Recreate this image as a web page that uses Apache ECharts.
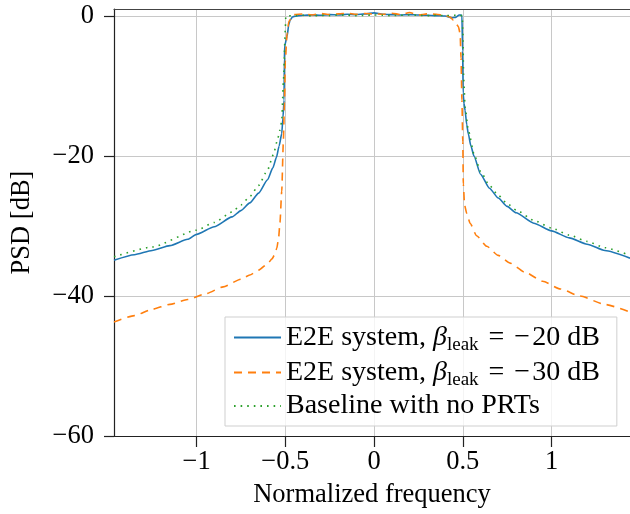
<!DOCTYPE html>
<html>
<head>
<meta charset="utf-8">
<script src="https://cdn.jsdelivr.net/npm/echarts@6/dist/echarts.min.js"></script>
<style>
html,body{margin:0;padding:0;background:#fff;}
#chart{width:630px;height:514px;}
</style>
</head>
<body>
<div id="chart"></div>
<script>
// ---- data ----
const xTicks = [-1, -0.5, 0, 0.5, 1];
const yTicks = [-60, -40, -20, 0];
const seriesNames = ['E2E system, β_leak = −20 dB', 'E2E system, β_leak = −30 dB', 'Baseline with no PRTs'];

const freqBlue = [-1.465, -1.35, -1.25, -1.15, -1.05, -1.0, -0.9, -0.8, -0.75, -0.7, -0.65, -0.6, -0.57, -0.55, -0.535, -0.52, -0.513, -0.507, -0.505, -0.503, -0.49, -0.48, -0.473, -0.46, -0.45, -0.4, -0.35, -0.3, -0.25, -0.2, -0.15, -0.1, -0.05, 0, 0.05, 0.1, 0.15, 0.2, 0.25, 0.3, 0.35, 0.4, 0.44, 0.46, 0.48, 0.495, 0.499, 0.502, 0.507, 0.513, 0.522, 0.531, 0.545, 0.563, 0.6, 0.65, 0.7, 0.75, 0.8, 0.9, 1.0, 1.1, 1.2, 1.3, 1.442];
const psdBlue = [-34.9, -34.1, -33.5, -32.8, -31.9, -31.2, -30.1, -28.7, -27.8, -26.7, -25.3, -23.4, -21.7, -20.2, -18.6, -16.8, -14.5, -12.0, -6.0, -4.2, -2.9, -1.2, -0.6, -0.15, -0.05, 0.1, 0.15, 0.1, 0.2, 0.15, 0.25, 0.2, 0.3, 0.45, 0.25, 0.2, 0.15, 0.2, 0.15, 0.1, 0.05, 0.0, -0.25, -0.2, 0.15, 0.1, -5, -11, -12.5, -13.5, -15.5, -16.8, -18.5, -20.0, -22.6, -24.6, -26.0, -27.2, -28.1, -29.6, -30.7, -31.7, -32.6, -33.5, -34.6];

const freqOrange = [-1.465, -1.35, -1.25, -1.15, -1.05, -0.95, -0.85, -0.75, -0.7, -0.65, -0.6, -0.575, -0.56, -0.548, -0.538, -0.53, -0.52, -0.511, -0.505, -0.5, -0.49, -0.48, -0.466, -0.45, -0.4, -0.35, -0.3, -0.25, -0.2, -0.15, -0.1, -0.05, 0, 0.05, 0.1, 0.15, 0.2, 0.25, 0.3, 0.35, 0.4, 0.43, 0.447, 0.465, 0.475, 0.485, 0.49, 0.495, 0.5, 0.503, 0.51, 0.522, 0.541, 0.578, 0.635, 0.7, 0.766, 0.85, 0.95, 1.05, 1.16, 1.3, 1.442];
const psdOrange = [-43.7, -42.8, -41.9, -41.2, -40.5, -39.7, -38.7, -37.6, -37.0, -36.3, -35.4, -34.7, -34.1, -33.2, -31.8, -29.5, -25.0, -18.0, -12.5, -6.5, -2.5, -0.8, -0.3, 0.2, 0.3, 0.15, 0.35, 0.2, 0.3, 0.4, 0.25, 0.35, 0.3, 0.25, 0.4, 0.2, 0.5, 0.15, 0.3, 0.25, 0.1, -0.2, -0.6, -1.2, -1.5, -2.5, -6.0, -12.0, -18.0, -24.0, -27.0, -28.2, -29.6, -31.4, -32.9, -34.2, -35.3, -36.6, -37.9, -39.0, -40.0, -41.2, -42.3];

const freqGreen = [-1.465, -1.25, -1.0, -0.9, -0.8, -0.75, -0.7, -0.65, -0.6, -0.567, -0.545, -0.53, -0.52, -0.51, -0.5, -0.497, -0.45, -0.4, -0.35, -0.3, -0.25, -0.2, -0.15, -0.1, -0.05, 0, 0.05, 0.1, 0.15, 0.2, 0.25, 0.3, 0.35, 0.4, 0.45, 0.497, 0.5, 0.505, 0.513, 0.531, 0.563, 0.6, 0.65, 0.7, 0.75, 0.8, 0.9, 1.0, 1.1, 1.2, 1.3, 1.442];
const psdGreen = [-34.4, -33.0, -30.6, -29.5, -28.0, -27.0, -25.8, -24.2, -22.0, -19.8, -17.8, -16.3, -15.0, -9.0, -2.0, 0.0, 0.05, 0.1, 0.0, 0.1, 0.05, 0.15, 0.1, 0.05, 0.1, 0.15, 0.1, 0.05, 0.1, 0.15, 0.1, 0.05, 0.1, 0.05, 0.1, 0.05, -2.0, -9.0, -13.0, -16.3, -19.7, -22.2, -24.2, -25.6, -26.8, -27.7, -29.2, -30.3, -31.3, -32.2, -33.1, -34.2];

// ---- build ----
const zip = (xs, ys) => xs.map((x, i) => [x, ys[i]]);
const FONT = '"Liberation Serif", "Times New Roman", serif';
const minusFmt = v => String(v).replace('-', '\u2212');
const FS = 26.5;
const LFS = 28;

const chart = echarts.init(document.getElementById('chart'), null, {renderer: 'canvas'});
chart.setOption({
  backgroundColor: '#fff',
  animation: false,
  textStyle: {fontFamily: FONT},
  grid: {left: 114, right: 0, top: 9, bottom: 76, containLabel: false},
  xAxis: [{
    type: 'value', min: -1.465, max: 1.442, position: 'bottom',
    name: 'Normalized frequency', nameLocation: 'middle', nameGap: 46,
    nameTextStyle: {fontFamily: FONT, fontSize: FS, color: '#000'},
    axisLine: {show: true, onZero: false, lineStyle: {color: '#222', width: 1.2}},
    axisTick: {show: true, inside: false, length: 11, customValues: xTicks, lineStyle: {color: '#222', width: 1.2}},
    axisLabel: {customValues: xTicks, formatter: minusFmt, fontFamily: FONT, fontSize: FS, color: '#000', margin: 13},
    splitLine: {show: true, lineStyle: {color: '#c8c8c8', width: 1}}
  }, {
    type: 'value', min: -1.465, max: 1.442, position: 'top',
    axisLine: {show: true, onZero: false, lineStyle: {color: '#444', width: 1.2}},
    axisTick: {show: false}, axisLabel: {show: false}, splitLine: {show: false}
  }],
  yAxis: {
    type: 'value', min: -60, max: 1,
    name: 'PSD [dB]', nameLocation: 'middle', nameGap: 78, nameRotate: 90,
    nameTextStyle: {fontFamily: FONT, fontSize: FS, color: '#000'},
    axisLine: {show: true, onZero: false, lineStyle: {color: '#222', width: 1.2}},
    axisTick: {show: true, inside: false, length: 10, customValues: yTicks, lineStyle: {color: '#222', width: 1.2}},
    axisLabel: {customValues: yTicks, formatter: minusFmt, fontFamily: FONT, fontSize: FS, color: '#000', margin: 20},
    splitLine: {show: true, lineStyle: {color: '#c8c8c8', width: 1}}
  },
  legend: {
    orient: 'vertical', left: 225, top: 317,
    padding: [5, 17, 6, 8], itemGap: 2,
    itemWidth: 47, itemHeight: 14,
    backgroundColor: 'rgba(255,255,255,0.8)', borderColor: '#cfcfcf', borderWidth: 1,
    itemStyle: {opacity: 0, borderWidth: 0},
    data: seriesNames,
    formatter: function (name) {
      if (name.indexOf('β_leak') >= 0) {
        const parts = name.split('β_leak');
        const rest = parts[1].trim().split(' ');
        return '{T|' + parts[0] + '}{b|β}{s|leak}{e|=}{m|−}{T|' + rest[1].replace('−', '') + ' ' + rest[2] + '}';
      }
      return '{t|' + name + '}';
    },
    textStyle: {
      fontFamily: FONT, fontSize: LFS, color: '#000',
      rich: {
        T: {fontFamily: FONT, fontSize: LFS, lineHeight: 35, color: '#000'},
        t: {fontFamily: FONT, fontSize: LFS, lineHeight: 23, color: '#000'},
        b: {fontFamily: FONT, fontSize: LFS, lineHeight: 35, fontStyle: 'italic', color: '#000'},
        e: {fontFamily: FONT, fontSize: LFS, lineHeight: 35, color: '#000', padding: [0, 10, 0, 10]},
        m: {fontFamily: FONT, fontSize: LFS, lineHeight: 35, color: '#000', padding: [0, 2, 0, 0]},
        s: {fontFamily: FONT, fontSize: 19, lineHeight: 21, verticalAlign: 'bottom', padding: [14, 0, 0, 0], color: '#000'}
      }
    }
  },
  series: [
    {name: seriesNames[0], type: 'line', xAxisIndex: 0, data: zip(freqBlue, psdBlue), symbol: 'none', showSymbol: false,
     smooth: 0.2, smoothMonotone: 'x',
     lineStyle: {color: '#1f77b4', width: 1.6}, itemStyle: {color: '#1f77b4'}, z: 3},
    {name: seriesNames[1], type: 'line', xAxisIndex: 0, data: zip(freqOrange, psdOrange), symbol: 'none', showSymbol: false,
     smooth: 0.2, smoothMonotone: 'x',
     lineStyle: {color: '#ff7f0e', width: 1.6, type: [8, 6]}, itemStyle: {color: '#ff7f0e'}, z: 4},
    {name: seriesNames[2], type: 'line', xAxisIndex: 0, data: zip(freqGreen, psdGreen), symbol: 'none', showSymbol: false,
     smooth: 0.2, smoothMonotone: 'x',
     lineStyle: {color: '#2ca02c', width: 1.6, type: [1.6, 5]}, itemStyle: {color: '#2ca02c'}, z: 5}
  ]
});
</script>
</body>
</html>
